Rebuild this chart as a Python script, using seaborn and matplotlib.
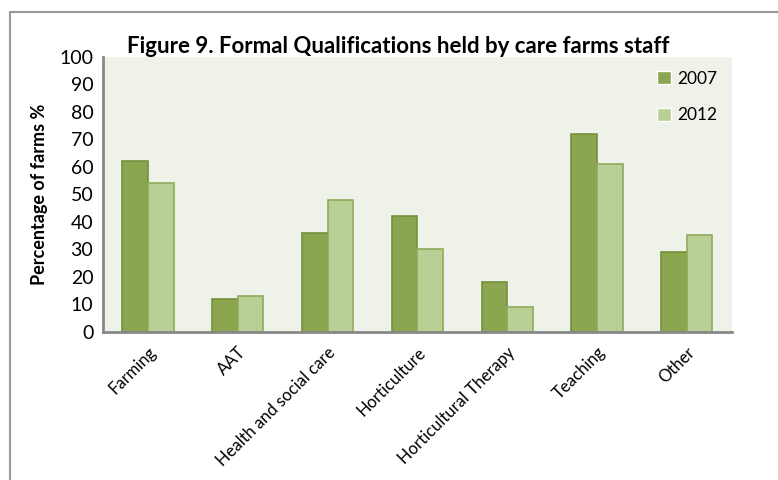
import pandas as pd
import matplotlib
matplotlib.use('Agg')
import matplotlib.pyplot as plt
from matplotlib.lines import Line2D
import seaborn as sns

# Chart data
categories = ['Farming', 'AAT', 'Health and social care', 'Horticulture',
              'Horticultural Therapy', 'Teaching', 'Other']
values_2007 = [62, 12, 36, 42, 18, 72, 29]
values_2012 = [54, 13, 48, 30, 9, 61, 35]
years = ['2007', '2012']

data = pd.DataFrame({
    'category': categories * 2,
    'year': [years[0]] * len(categories) + [years[1]] * len(categories),
    'value': values_2007 + values_2012,
})

sns.set_style('white')
plt.rcParams['font.family'] = ['Lato', 'DejaVu Sans']
plt.rcParams['text.color'] = 'black'
plt.rcParams['xtick.color'] = 'black'
plt.rcParams['ytick.color'] = 'black'
plt.rcParams['axes.labelcolor'] = 'black'

fig = plt.figure(figsize=(7.78, 4.80), dpi=100)
ax = fig.add_axes([0.1324, 0.309, 0.8081, 0.5729])
ax.set_facecolor('#EFF2E8')

palette = {'2007': '#8BA64E', '2012': '#BACF96'}
sns.barplot(data=data, x='category', y='value', hue='year', palette=palette,
            width=0.57, gap=0, saturation=1, ax=ax, errorbar=None)

# bar outlines
for i, container in enumerate(ax.containers):
    edge = '#74913C' if i == 0 else '#8FAB5C'
    for bar in container:
        bar.set_edgecolor(edge)
        bar.set_linewidth(1.2)

ax.set_ylim(0, 100)
ax.set_yticks(range(0, 101, 10))
ax.tick_params(axis='y', labelsize=14, length=0, pad=7)
ax.tick_params(axis='x', labelsize=12, length=0, pad=9)
ax.set_xticks(range(len(categories)))
ax.set_xticklabels(categories, rotation=45, ha='right', rotation_mode='anchor')

for side in ['top', 'right']:
    ax.spines[side].set_visible(False)
for side in ['left', 'bottom']:
    ax.spines[side].set_color('#888888')
    ax.spines[side].set_linewidth(2)

ax.set_xlabel('')
ax.set_ylabel('Percentage of farms %', fontsize=13, fontweight='bold', labelpad=8)
ax.set_title('Figure 9. Formal Qualifications held by care farms staff',
             fontsize=16, fontweight='bold', pad=3, x=0.47)

leg = ax.legend(loc='upper right', frameon=False, fontsize=12.5,
                handlelength=0.8, handleheight=0.8, labelspacing=1.2,
                handletextpad=0.4, borderaxespad=0.4)

# outer frame lines (left and top) as in the cropped reference
fig.add_artist(Line2D([10 / 778, 10 / 778], [0, 1 - 12 / 480], color='#999999', lw=1.5))
fig.add_artist(Line2D([10 / 778, 1], [1 - 12 / 480, 1 - 12 / 480], color='#999999', lw=1.5))

fig.savefig('out.png', dpi=100, facecolor='white')
